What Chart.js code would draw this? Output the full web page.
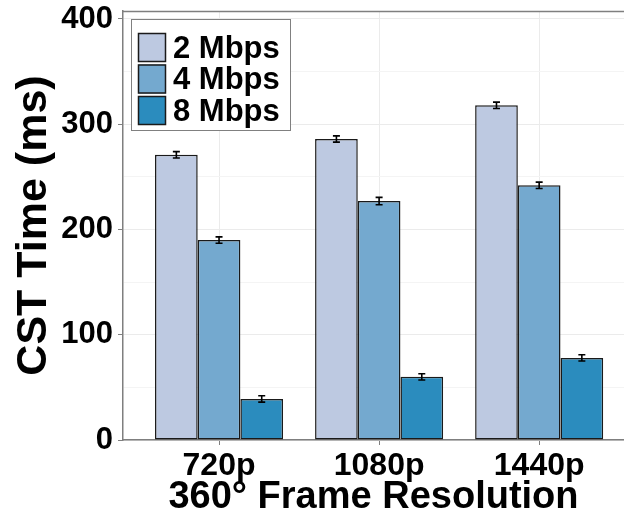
<!DOCTYPE html>
<html>
<head>
<meta charset="utf-8">
<script src="https://cdn.jsdelivr.net/npm/chart.js@4"></script>
<style>
  body { margin: 0; background: #fff; }
  #wrap { width: 624px; height: 520px; position: relative; }
</style>
</head>
<body>
<div id="wrap"><canvas id="chart"></canvas></div>
<script>
const categories = ["720p", "1080p", "1440p"];
const seriesLabels = ["2 Mbps", "4 Mbps", "8 Mbps"];
const mbps2 = [271, 286, 318];
const mbps4 = [190, 227, 242];
const mbps8 = [39, 60, 78];
const err2 = [3, 3, 3];
const err4 = [3, 3.5, 3];
const err8 = [3, 3, 3];
const yTicks = [0, 100, 200, 300, 400];
const yMinor = [50, 150, 250, 350];

const colors = ["#BDC9E1", "#74A9CF", "#2B8CBE"];
const FONT = "'Liberation Sans', Arial, sans-serif";

const toPoints = (vals) => vals.map((v, i) => ({ x: i + 1, y: v }));
const errors = [err2, err4, err8];

const errorBars = {
  id: "errorBars",
  afterDatasetsDraw(chart) {
    const ctx = chart.ctx;
    const y = chart.scales.y;
    ctx.save();
    ctx.strokeStyle = "#000";
    ctx.lineWidth = 1.6;
    chart.data.datasets.forEach((ds, di) => {
      const meta = chart.getDatasetMeta(di);
      meta.data.forEach((bar, i) => {
        const v = ds.data[i].y, e = errors[di][i];
        const top = y.getPixelForValue(v + e);
        const bot = y.getPixelForValue(v - e);
        ctx.beginPath();
        ctx.moveTo(bar.x, top); ctx.lineTo(bar.x, bot);
        ctx.moveTo(bar.x - 3.5, top); ctx.lineTo(bar.x + 3.5, top);
        ctx.moveTo(bar.x - 3.5, bot); ctx.lineTo(bar.x + 3.5, bot);
        ctx.stroke();
      });
    });
    ctx.restore();
  }
};

const panelAndLegend = {
  id: "panelAndLegend",
  afterDraw(chart) {
    const ctx = chart.ctx;
    const a = chart.chartArea;
    ctx.save();
    // top panel border
    ctx.strokeStyle = "#7f7f7f";
    ctx.lineWidth = 1.5;
    ctx.beginPath();
    ctx.moveTo(a.left, a.top + 0.5);
    ctx.lineTo(a.right, a.top + 0.5);
    ctx.stroke();

    // legend box
    ctx.fillStyle = "#fff";
    ctx.fillRect(131, 19, 159, 111);
    ctx.strokeStyle = "#808080";
    ctx.lineWidth = 1;
    ctx.strokeRect(131.5, 19.5, 159, 111);
    ctx.font = "bold 31px " + FONT;
    ctx.textBaseline = "middle";
    ctx.textAlign = "left";
    chart.data.datasets.forEach((ds, i) => {
      const y0 = 33 + i * 31.5;
      ctx.fillStyle = ds.backgroundColor;
      ctx.fillRect(138, y0, 28, 29);
      ctx.strokeStyle = "#1a1a1a";
      ctx.lineWidth = 1.5;
      ctx.strokeRect(138.5, y0 + 0.5, 27, 28);
      ctx.fillStyle = "#000";
      ctx.fillText(ds.label, 173, y0 + 16);
    });
    ctx.restore();
  }
};

new Chart(document.getElementById("chart"), {
  type: "bar",
  data: {
    datasets: [mbps2, mbps4, mbps8].map((vals, i) => ({
      label: seriesLabels[i],
      data: toPoints(vals),
      backgroundColor: colors[i],
      borderColor: "#1a1a1a",
      borderWidth: 1.5,
      borderSkipped: false,
      categoryPercentage: 0.8,
      barPercentage: 1.0
    }))
  },
  options: {
    responsive: true,
    maintainAspectRatio: false,
    animation: false,
    layout: { padding: { top: 11, right: 0, left: 0, bottom: 0 } },
    plugins: { legend: { display: false }, tooltip: { enabled: false } },
    scales: {
      x: {
        type: "linear",
        offset: false,
        min: 0.4,
        max: 3.53,
        afterBuildTicks: (s) => { s.ticks = categories.map((c, i) => ({ value: i + 1 })); },
        afterFit: (s) => { s.height = 80; s.paddingLeft = 0; s.paddingRight = 0; },
        ticks: {
          autoSkip: false,
          maxRotation: 0,
          padding: 2,
          color: "#000",
          font: { family: FONT, size: 32, weight: "bold" },
          callback: (v) => categories[v - 1]
        },
        grid: { offset: false, color: "#EBEBEB", tickColor: "#7f7f7f", tickLength: 5, drawOnChartArea: true },
        border: { color: "#7f7f7f", width: 1.5 },
        title: {
          display: true,
          text: "360° Frame Resolution",
          color: "#000",
          font: { family: FONT, size: 38, weight: "bold" },
          padding: { top: 0, bottom: 0 }
        }
      },
      y: {
        min: 0,
        max: 407.6,
        afterBuildTicks: (s) => {
          s.ticks = yTicks.concat(yMinor).sort((a, b) => a - b).map((v) => ({ value: v }));
        },
        afterFit: (s) => { s.width = 123; s.paddingTop = 0; s.paddingBottom = 0; },
        ticks: {
          autoSkip: false,
          padding: 5,
          color: "#000",
          font: { family: FONT, size: 31, weight: "bold" },
          callback: (v) => (yTicks.includes(v) ? v : "")
        },
        grid: {
          color: (c) => (c.tick && yTicks.includes(c.tick.value) ? "#EBEBEB" : "#F4F4F4"),
          tickColor: (c) => (c.tick && yTicks.includes(c.tick.value) ? "#7f7f7f" : "rgba(0,0,0,0)"),
          tickLength: 5
        },
        border: { color: "#7f7f7f", width: 1.5 },
        title: {
          display: true,
          text: "CST Time (ms)",
          color: "#000",
          font: { family: FONT, size: 43, weight: "bold" },
          padding: { top: 8, bottom: 0 }
        }
      }
    }
  },
  plugins: [errorBars, panelAndLegend]
});
</script>
</body>
</html>
